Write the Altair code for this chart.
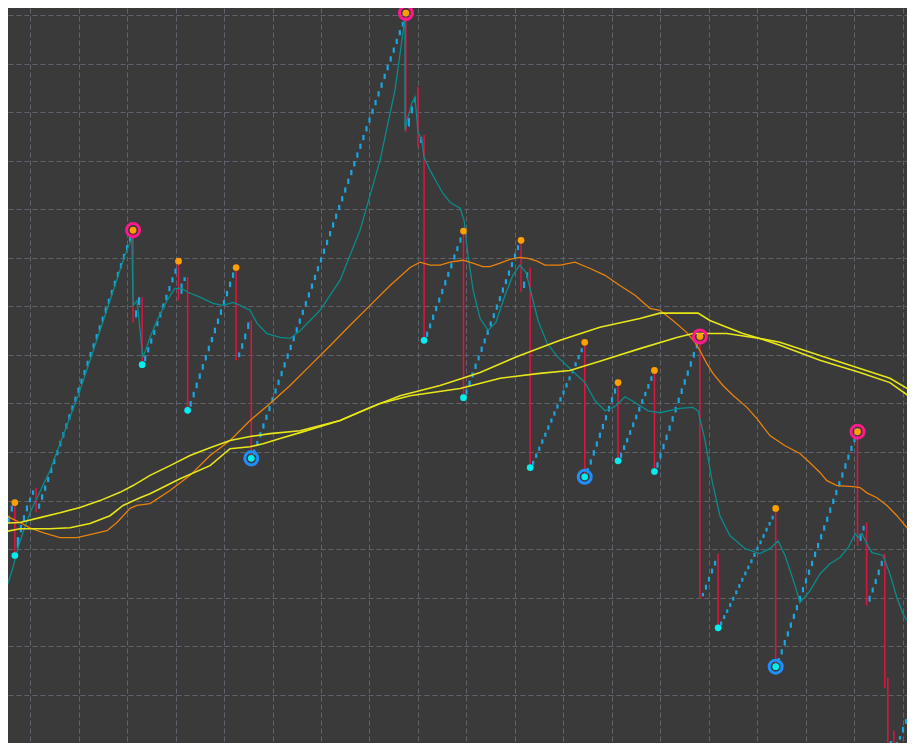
import altair as alt
import pandas as pd

# ---------------- data (bar index, price) ----------------
# rising renko-like legs: first bar index, base price, brick closes
leg_start_bar = [-7, -4, 3, 35, 38, 50, 53, 69, 74, 125, 129, 131, 144, 163, 166, 184, 195, 207, 222, 228, 247, 274, 277, 284, 286]
leg_base = [44.2, 38.7, 47.6, 86.7, 78.0, 91.2, 68.6, 78.9, 58.7, 125.9, 122.8, 83.0, 71.2, 92.9, 56.8, 54.9, 58.2, 56.0, 29.8, 23.8, 15.8, 40.7, 28.4, -0.9, -2.0]
leg_closes = [
    [46.9, 49.0],
    [42.5, 45.0, 47.0, 49.0, 50.6, 52.1],
    [49.4, 51.3, 53.1, 54.9, 56.8, 58.6, 60.4, 62.3, 64.1, 65.9, 67.8, 69.6, 71.4, 73.3, 75.1, 76.9,
     78.8, 80.6, 82.4, 84.3, 86.1, 87.9, 89.8, 91.6, 93.4, 95.3, 97.1, 98.9, 100.8, 102.6, 104.5],
    [89.2, 91.9],
    [79.8, 81.6, 83.4, 85.2, 87.0, 88.8, 90.6, 92.4, 94.2, 96.0, 97.8],
    [94.7, 96.0],
    [70.5, 72.4, 74.3, 76.2, 78.1, 80.0, 81.9, 83.7, 85.6, 87.5, 89.4, 91.3, 93.2, 95.1, 97.0],
    [80.5, 82.4, 84.4, 86.7],
    [60.5, 62.3, 64.1, 65.9, 67.7, 69.5, 71.3, 73.1, 74.9, 76.7, 78.5, 80.3, 82.1, 83.9, 85.7, 87.5,
     89.3, 91.1, 92.9, 94.7, 96.5, 98.3, 100.1, 101.9, 103.7, 105.5, 107.3, 109.1, 110.9, 112.7,
     114.5, 116.3, 118.1, 119.9, 121.7, 123.5, 125.3, 127.1, 128.9, 130.7, 132.5, 134.3, 136.1,
     137.9, 139.7, 141.5, 143.3, 145.1, 146.9, 148.6],
    [128.8, 131.2, 133.1],
    [124.9],
    [84.8, 86.5, 88.3, 90.1, 91.8, 93.6, 95.4, 97.1, 98.9, 100.7, 102.4, 104.2],
    [72.9, 74.7, 76.4, 78.2, 79.9, 81.7, 83.4, 85.2, 86.9, 88.6, 90.4, 92.1, 93.9, 95.6, 97.4, 99.1, 100.9, 102.6],
    [95.1, 97.0],
    [58.2, 59.7, 61.1, 62.6, 64.0, 65.5, 66.9, 68.4, 69.8, 71.3, 72.7, 74.2, 75.6, 77.1, 78.5, 80.0, 81.4],
    [56.7, 58.5, 60.4, 62.2, 64.0, 65.8, 67.6, 69.5, 71.3, 73.1],
    [59.8, 61.4, 62.9, 64.5, 66.1, 67.7, 69.3, 70.9, 72.4, 74.0, 75.6],
    [57.9, 59.8, 61.7, 63.6, 65.5, 67.4, 69.3, 71.2, 73.1, 75.0, 76.8, 78.7, 80.6, 82.5],
    [31.0, 32.7, 34.3, 36.0, 37.6],
    [25.1, 26.4, 27.6, 28.9, 30.2, 31.5, 32.8, 34.1, 35.4, 36.6, 37.9, 39.2, 40.5, 41.8, 43.1, 44.4, 45.6, 46.9],
    [17.6, 19.4, 21.3, 23.1, 24.9, 26.7, 28.5, 30.4, 32.2, 34.0, 35.8, 37.6, 39.5, 41.3, 43.1, 44.9,
     46.7, 48.6, 50.4, 52.2, 54.0, 55.8, 57.7, 59.5, 61.3, 63.1],
    [43.2, 44.8],
    [30.4, 32.1, 33.9, 35.8, 37.6],
    [0.5],
    [0.3, 1.5, 3.4, 5.0, 6.9, 8.7, 10.6],
]

# falling bars
red_bar = [-5, 2, 34, 37, 49, 52, 68, 73, 124, 128, 130, 143, 162, 165, 183, 194, 206, 221, 227, 246, 273, 276, 282, 283, 285]
red_top = [49.6, 52.6, 105.7, 91.9, 99.3, 96.0, 98.0, 87.1, 150.4, 135.2, 125.3, 105.5, 103.6, 98.0, 82.6, 74.3, 76.8, 83.8, 39.1, 48.4, 64.2, 45.5, 39.1, 13.5, 2.6]
red_low = [38.7, 47.6, 86.7, 78.0, 91.2, 68.6, 78.9, 58.7, 125.9, 122.8, 83.0, 71.2, 92.9, 56.8, 54.9, 58.2, 56.0, 29.8, 23.8, 15.8, 40.7, 28.4, 11.4, -0.9, -2.0]

# swing markers
high_bar = [-5, 49, 68, 143, 162, 183, 194, 206, 246]
high_price = [49.6, 99.3, 98.0, 105.5, 103.6, 82.6, 74.3, 76.8, 48.4]
low_bar = [-5, 37, 52, 130, 143, 165, 194, 206, 227]
low_price = [38.7, 78.0, 68.6, 83.0, 71.2, 56.8, 58.2, 56.0, 23.8]
major_high_bar = [34, 124, 221, 273]
major_high_price = [105.7, 150.4, 83.8, 64.2]
major_low_bar = [73, 183, 246, 285]
major_low_price = [58.7, 54.9, 15.8, -2.0]

# fast average (teal)
teal_bar = [-8.3, -5.9, -3.3, 0, 6.6, 16.5, 26.4, 31.3, 33.6, 34.0, 35.3, 37.0, 37.3, 39.6, 41.9, 45.2, 47.8,
            50.1, 52.1, 56.1, 60.4, 63.7, 67.0, 69.3, 72.6, 74.9, 78.2, 82.5, 85.8, 89.1, 95.7, 102.3,
            108.9, 115.5, 120.4, 122.7, 123.7, 123.7, 124.4, 126.0, 127.0, 128.0, 129.3, 130.0, 132.0,
            134.3, 136.2, 138.6, 141.9, 143.2, 144.5, 146.2, 148.5, 151.1, 153.7, 156.7, 159.3, 161.6,
            163.6, 165.3, 167.6, 170.6, 174.2, 178.8, 183.1, 186.4, 189.7, 193.0, 196.3, 199.6, 203.9,
            207.8, 214.4, 218.7, 220.4, 221.0, 222.7, 225.0, 227.6, 230.9, 235.9, 240.8, 244.1, 246.8,
            249.1, 252.4, 254.0, 257.3, 260.6, 263.9, 267.2, 269.9, 272.2, 273.2, 274.5, 276.1, 277.8,
            281.4, 283.7, 286.0, 288.0, 290.3, 292.0]
teal_price = [31.0, 35.6, 41.7, 47.5, 56.2, 72.7, 91.2, 100.5, 104.0, 90.2, 91.2, 80.9, 79.5, 83.6, 87.1, 91.2, 93.7,
              93.7, 92.9, 91.9, 90.6, 90.2, 90.8, 90.2, 89.2, 86.5, 84.4, 83.6, 83.4, 85.0, 89.2, 95.4,
              105.7, 120.1, 134.5, 144.8, 149.4, 126.3, 128.3, 131.9, 133.1, 125.9, 124.2, 120.7, 118.0,
              115.4, 113.3, 111.4, 110.2, 107.7, 100.5, 93.3, 87.5, 85.1, 86.7, 92.3, 96.4, 98.5,
              97.0, 92.9, 87.1, 82.4, 79.5, 76.8, 74.3, 70.6, 68.5, 69.4, 71.4, 70.2, 68.5,
              68.1, 69.0, 69.2, 68.5, 66.9, 62.4, 54.1, 46.9, 42.8, 40.1, 39.1, 40.1, 41.7,
              38.7, 32.5, 29.0, 31.4, 34.9, 37.0, 38.3, 40.3, 43.2, 42.4, 43.2, 41.1, 39.3,
              38.7, 34.9, 30.0, 26.7, 24.2, 22.8]

# slow average (orange)
orange_bar = [-9.9, -6.6, -3.3, 0, 4.3, 9.9, 15.5, 19.8, 25.4, 28.7, 33.0, 35.3, 39.6, 46.2, 52.8, 59.4, 66.0,
              72.6, 79.2, 85.8, 92.4, 99.0, 105.6, 112.2, 118.8, 125.4, 128.7, 132.0, 135.3, 138.6, 142.8,
              146.1, 149.4, 151.7, 155.1, 158.3, 161.6, 164.3, 167.3, 169.9, 174.9, 179.8, 184.8, 189.7,
              194.6, 199.6, 204.5, 207.8, 212.1, 216.7, 219.4, 221.0, 223.3, 225.3, 228.6, 231.9, 236.5,
              239.8, 244.1, 249.1, 254.0, 257.3, 260.6, 262.9, 266.2, 271.5, 273.8, 276.1, 279.4, 282.7,
              286.0, 289.3, 292.0]
orange_price = [47.9, 46.5, 45.5, 44.4, 43.4, 42.4, 42.4, 43.0, 43.8, 45.5, 48.4, 49.0, 49.4, 52.1, 55.2, 59.3, 62.4,
                66.5, 70.0, 73.7, 77.8, 81.9, 86.1, 90.2, 94.3, 98.0, 99.1, 98.5, 98.5, 99.1, 99.5,
                98.9, 98.2, 98.2, 98.9, 99.7, 100.1, 99.9, 99.3, 98.5, 98.5, 99.1, 97.8, 96.4,
                94.3, 92.3, 89.6, 89.2, 87.1, 84.6, 82.6, 80.9, 78.2, 76.2, 73.7, 71.7, 69.2,
                66.9, 63.4, 61.3, 59.7, 57.8, 55.8, 54.1, 53.1, 52.9, 52.7, 51.6, 50.6, 49.0,
                46.9, 44.4, 43.2]

# two yellow averages
yellow_a_bar = [-9.9, -3.3, 3.3, 9.9, 16.5, 23.1, 29.7, 34.0, 39.6, 46.2, 52.8, 59.4, 66.0, 72.6, 79.2, 89.1,
                102.3, 115.5, 125.4, 141.9, 155.1, 168.2, 178.1, 188.0, 201.2, 213.4, 218.7, 229.9, 240.8,
                247.4, 260.6, 273.8, 283.7, 292.0]
yellow_a_price = [45.3, 45.5, 46.5, 47.5, 48.6, 50.0, 51.7, 53.1, 55.2, 57.2, 59.3, 60.9, 62.4, 63.2, 63.8, 64.4,
                  66.5, 70.0, 71.6, 73.1, 75.2, 76.2, 76.8, 78.7, 81.3, 83.6, 84.4, 84.4, 83.4,
                  82.6, 79.9, 77.2, 75.2, 72.1]
yellow_b_bar = [-9.9, -3.3, 6.6, 13.2, 19.8, 26.4, 30.7, 36.3, 39.6, 49.5, 59.4, 66.0, 72.6, 76.9, 82.5, 89.1,
                102.3, 112.2, 122.1, 135.3, 148.5, 161.6, 174.9, 188.0, 201.2, 207.8, 220.4, 224.3, 229.9,
                235.2, 240.8, 247.4, 260.6, 273.8, 283.7, 292.0]
yellow_b_price = [43.4, 44.2, 44.2, 44.4, 45.3, 46.9, 49.0, 50.6, 51.4, 54.5, 57.2, 60.7, 61.1, 61.7, 62.8, 64.0,
                  66.5, 69.2, 71.6, 73.7, 76.4, 79.9, 83.0, 85.7, 87.5, 88.6, 88.6, 87.1, 85.7,
                  84.4, 83.4, 82.0, 78.9, 76.4, 74.3, 70.6]

grid_bars = list(range(0, 289, 16))
grid_prices = list(range(0, 151, 10))

# ---------------- tables ----------------
brick_rows = []
for sb, base, closes in zip(leg_start_bar, leg_base, leg_closes):
    prev = base
    for i, c in enumerate(closes):
        brick_rows.append({"bar": sb + i, "lo": prev + 0.4 * (c - prev), "hi": c})
        prev = c
bricks = pd.DataFrame(brick_rows)
reds = pd.DataFrame({"bar": red_bar, "top": red_top, "low": red_low})


def line_df(bars, prices):
    return pd.DataFrame({"bar": bars, "price": prices, "i": range(len(bars))})


teal = line_df(teal_bar, teal_price)
orange = line_df(orange_bar, orange_price)
ya = line_df(yellow_a_bar, yellow_a_price)
yb = line_df(yellow_b_bar, yellow_b_price)
highs = pd.DataFrame({"bar": high_bar, "price": high_price})
lows = pd.DataFrame({"bar": low_bar, "price": low_price})
mhighs = pd.DataFrame({"bar": major_high_bar, "price": major_high_price})
mlows = pd.DataFrame({"bar": major_low_bar, "price": major_low_price})

# ---------------- chart ----------------
W, H = 899, 735
xs = alt.Scale(domain=[-7.258, 289.32], nice=False, zero=False)
ys = alt.Scale(domain=[0.089, 151.44], nice=False, zero=False)
grid_col = "#5f646c"
x_axis = alt.Axis(values=grid_bars, labels=False, ticks=False, domain=False, title=None,
                  grid=True, gridColor=grid_col, gridDash=[5, 3], gridWidth=1)
y_axis = alt.Axis(values=grid_prices, labels=False, ticks=False, domain=False, title=None,
                  grid=True, gridColor=grid_col, gridDash=[5, 3], gridWidth=1)


def X(f="bar"):
    return alt.X(f, type="quantitative", scale=xs, axis=x_axis)


def Y(f):
    return alt.Y(f, type="quantitative", scale=ys, axis=y_axis)


brick_layer = alt.Chart(bricks).mark_rule(color="#1ba6e0", strokeWidth=2.2, clip=True).encode(
    x=X(), y=Y("lo"), y2="hi")
red_layer = alt.Chart(reds).mark_rule(color="#d8163f", strokeWidth=1.6, clip=True).encode(
    x=X(), y=Y("top"), y2="low")


def line_layer(df, color, w):
    return alt.Chart(df).mark_line(color=color, strokeWidth=w, clip=True).encode(
        x=X(), y=Y("price"), order="i:Q")


teal_layer = line_layer(teal, "#0b8b8b", 1.3)
orange_layer = line_layer(orange, "#e8820e", 1.3)
ya_layer = line_layer(ya, "#e6e619", 1.6)
yb_layer = line_layer(yb, "#e6e619", 1.6)

mh_ring = alt.Chart(mhighs).mark_point(shape="circle", filled=False, color="#ff1a8c", strokeWidth=3,
                                       size=170, opacity=1, clip=True).encode(x=X(), y=Y("price"))
ml_ring = alt.Chart(mlows).mark_point(shape="circle", filled=False, color="#1e8fff", strokeWidth=3,
                                      size=170, opacity=1, clip=True).encode(x=X(), y=Y("price"))
hi_dots = alt.Chart(pd.concat([highs, mhighs])).mark_circle(color="#ff9f00", size=45, opacity=1,
                                                           clip=True).encode(x=X(), y=Y("price"))
lo_dots = alt.Chart(pd.concat([lows, mlows])).mark_circle(color="#00f0f0", size=45, opacity=1,
                                                         clip=True).encode(x=X(), y=Y("price"))

chart = alt.layer(
    brick_layer, red_layer, teal_layer, orange_layer, ya_layer, yb_layer,
    mh_ring, ml_ring, hi_dots, lo_dots
).properties(
    width=W, height=H, padding=0, autosize=alt.AutoSizeParams(type="none"),
    background="#3a3a3a"
).configure_view(stroke=None, fill="#3a3a3a")

chart.save("out.html", embed_options={"renderer": "svg", "actions": False})
